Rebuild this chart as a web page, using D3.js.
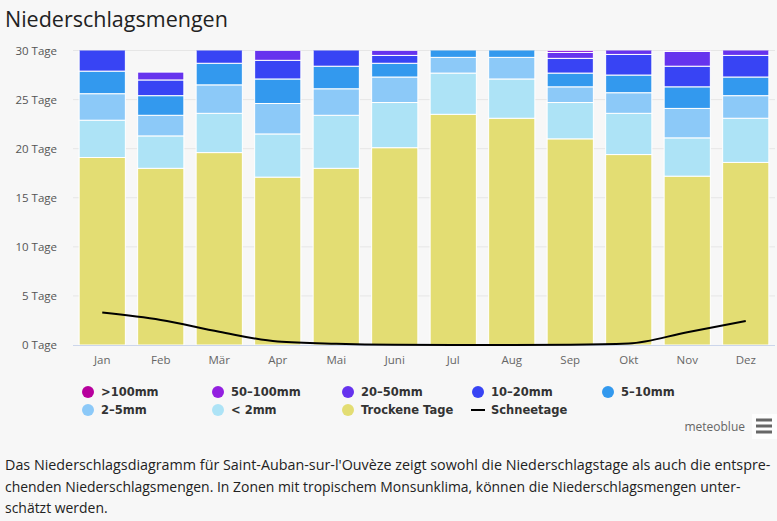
<!DOCTYPE html>
<html>
<head>
<meta charset="utf-8">
<script src="https://cdn.jsdelivr.net/npm/d3@7"></script>
<style>
  html, body { margin: 0; padding: 0; background: #f7f7f7; }
  svg { display: block; }
</style>
</head>
<body>
<svg id="chart" width="777" height="521"></svg>
<script>
// month categories
const months = ["Jan", "Feb", "Mär", "Apr", "Mai", "Juni", "Jul", "Aug", "Sep", "Okt", "Nov", "Dez"];

// days per month in each precipitation class
const dry    = [19.1, 18.0, 19.6, 17.1, 18.0, 20.1, 23.5, 23.1, 21.0, 19.4, 17.2, 18.6];
const lt2    = [3.8, 3.3, 4.0, 4.4, 5.4, 4.6, 4.2, 4.0, 3.7, 4.2, 3.9, 4.5];
const mm2_5  = [2.7, 2.1, 2.9, 3.1, 2.7, 2.6, 1.6, 2.2, 1.6, 2.1, 3.0, 2.3];
const mm5_10 = [2.3, 2.0, 2.2, 2.5, 2.3, 1.4, 1.7, 1.7, 1.4, 1.8, 2.2, 1.9];
const mm10_20 = [3.1, 1.6, 2.3, 1.9, 2.6, 0.8, 0, 0, 1.5, 2.1, 2.1, 2.2];
const mm20_50 = [0, 0.8, 0, 1.0, 0, 0.5, 0, 0, 0.6, 1.4, 1.5, 1.5];
const mm50_100 = [0, 0, 0, 0, 0, 0, 0, 0, 0.2, 0, 0.1, 0];
const gt100  = [0, 0, 0, 0, 0, 0, 0, 0, 0, 0, 0, 0];
const snow   = [3.3, 2.55, 1.35, 0.35, 0.12, 0.02, 0, 0, 0.02, 0.15, 1.3, 2.45];

const yTicks = [0, 5, 10, 15, 20, 25, 30];

// stack order, bottom first
const series = [
  {key: "dry", name: "Trockene Tage", values: dry, color: "#e3dd73"},
  {key: "lt2", name: "< 2mm", values: lt2, color: "#ade3f6"},
  {key: "mm2_5", name: "2–5mm", values: mm2_5, color: "#8cc9f8"},
  {key: "mm5_10", name: "5–10mm", values: mm5_10, color: "#3399ee"},
  {key: "mm10_20", name: "10–20mm", values: mm10_20, color: "#3844f4"},
  {key: "mm20_50", name: "20–50mm", values: mm20_50, color: "#6633ee"},
  {key: "mm50_100", name: "50–100mm", values: mm50_100, color: "#9320e0"},
  {key: "gt100", name: ">100mm", values: gt100, color: "#b7009d"}
];

const svg = d3.select("#chart");
const plotLeft = 73, plotRight = 775, plotTop = 50.5, plotBottom = 345;

const x = d3.scaleBand().domain(months).range([plotLeft, plotRight])
  .paddingInner(0.21).paddingOuter(0.105);
const y = d3.scaleLinear().domain([0, 30]).range([plotBottom, plotTop]);

// title
svg.append("text")
  .attr("x", 5).attr("y", 27)
  .style("font-family", "'Open Sans', sans-serif")
  .style("font-size", "21.5px")
  .style("fill", "#222")
  .text("Niederschlagsmengen");

// grid + y labels
const grid = svg.append("g");
yTicks.forEach(t => {
  if (t > 0) {
    grid.append("line")
      .attr("x1", plotLeft).attr("x2", plotRight)
      .attr("y1", y(t)).attr("y2", y(t))
      .attr("stroke", "#e6e6e6").attr("stroke-width", 1);
  }
  grid.append("text")
    .attr("x", 57).attr("y", y(t) + 4)
    .attr("text-anchor", "end")
    .style("font-family", "'Open Sans', sans-serif")
    .style("font-size", "11.5px")
    .style("fill", "#555")
    .text(t + " Tage");
});

svg.append("clipPath").attr("id", "plotClip")
  .append("rect").attr("x", plotLeft).attr("y", plotTop)
  .attr("width", plotRight - plotLeft).attr("height", plotBottom - plotTop);

// stacked bars
const table = months.map((m, i) => {
  const row = {month: m};
  series.forEach(s => row[s.key] = s.values[i]);
  return row;
});
const stack = d3.stack().keys(series.map(s => s.key))(table);

const bars = svg.append("g").attr("clip-path", "url(#plotClip)");
stack.forEach((layer, li) => {
  bars.append("g")
    .attr("fill", series[li].color)
    .selectAll("rect")
    .data(layer.filter(d => d[1] - d[0] > 0))
    .join("rect")
    .attr("x", d => x(d.data.month))
    .attr("width", x.bandwidth())
    .attr("y", d => y(d[1]))
    .attr("height", d => y(d[0]) - y(d[1]))
    .attr("stroke", "#ffffff")
    .attr("stroke-width", 1);
});

// x axis line + labels
svg.append("line")
  .attr("x1", plotLeft).attr("x2", plotRight)
  .attr("y1", plotBottom + 0.5).attr("y2", plotBottom + 0.5)
  .attr("stroke", "#ccd6eb");

svg.append("g").selectAll("text")
  .data(months).join("text")
  .attr("x", d => x(d) + x.bandwidth() / 2)
  .attr("y", 364)
  .attr("text-anchor", "middle")
  .style("font-family", "'Open Sans', sans-serif")
  .style("font-size", "11.5px")
  .style("fill", "#666")
  .text(d => d);

// snow days line
const line = d3.line()
  .x((d, i) => x(months[i]) + x.bandwidth() / 2)
  .y(d => y(d))
  .curve(d3.curveMonotoneX);

svg.append("path")
  .datum(snow)
  .attr("d", line)
  .attr("fill", "none")
  .attr("stroke", "#000")
  .attr("stroke-width", 2);

// legend
const legendItems = [
  series[7], series[6], series[5], series[4], series[3],
  series[2], series[1], series[0],
  {name: "Schneetage", line: true}
];
const legend = svg.append("g");
legendItems.forEach((item, i) => {
  const col = i % 5, row = Math.floor(i / 5);
  const cx = 88 + col * 130, cy = 392 + row * 18;
  if (item.line) {
    legend.append("line")
      .attr("x1", cx - 7).attr("x2", cx + 7)
      .attr("y1", cy).attr("y2", cy)
      .attr("stroke", "#000").attr("stroke-width", 2);
  } else {
    legend.append("circle")
      .attr("cx", cx).attr("cy", cy).attr("r", 6)
      .attr("fill", item.color);
  }
  legend.append("text")
    .attr("x", cx + 13).attr("y", cy + 4)
    .style("font-family", "'DejaVu Sans', sans-serif")
    .style("font-size", "11.5px")
    .style("font-weight", "bold")
    .style("fill", "#333")
    .text(item.name);
});

// credit + menu icon
svg.append("text")
  .attr("x", 745).attr("y", 431)
  .attr("text-anchor", "end")
  .style("font-family", "'Open Sans', sans-serif")
  .style("font-size", "12px")
  .style("fill", "#666")
  .text("meteoblue");

svg.append("rect").attr("x", 752).attr("y", 414).attr("width", 25).attr("height", 25)
  .attr("fill", "#fdfdfd");
[420, 426, 432].forEach(yy => {
  svg.append("rect").attr("x", 756).attr("y", yy - 1.5)
    .attr("width", 16).attr("height", 3).attr("fill", "#666");
});

// description text, squeezed horizontally to the widths of the original lines
const desc = [
  {t: "Das Niederschlagsdiagramm für Saint-Auban-sur-l'Ouvèze zeigt sowohl die Niederschlagstage als auch die entspre-", w: 766},
  {t: "chenden Niederschlagsmengen. In Zonen mit tropischem Monsunklima, können die Niederschlagsmengen unter-", w: 736},
  {t: "schätzt werden.", w: 0}
];
let squeeze = 1;
desc.forEach((d, i) => {
  const txt = svg.append("text")
    .style("font-family", "'Open Sans', sans-serif")
    .style("font-size", "14.5px")
    .style("fill", "#222")
    .text(d.t);
  if (d.w) squeeze = d.w / txt.node().getComputedTextLength();
  txt.attr("transform", `translate(5,${470 + i * 21.5}) scale(${squeeze},1)`);
});
</script>
</body>
</html>
